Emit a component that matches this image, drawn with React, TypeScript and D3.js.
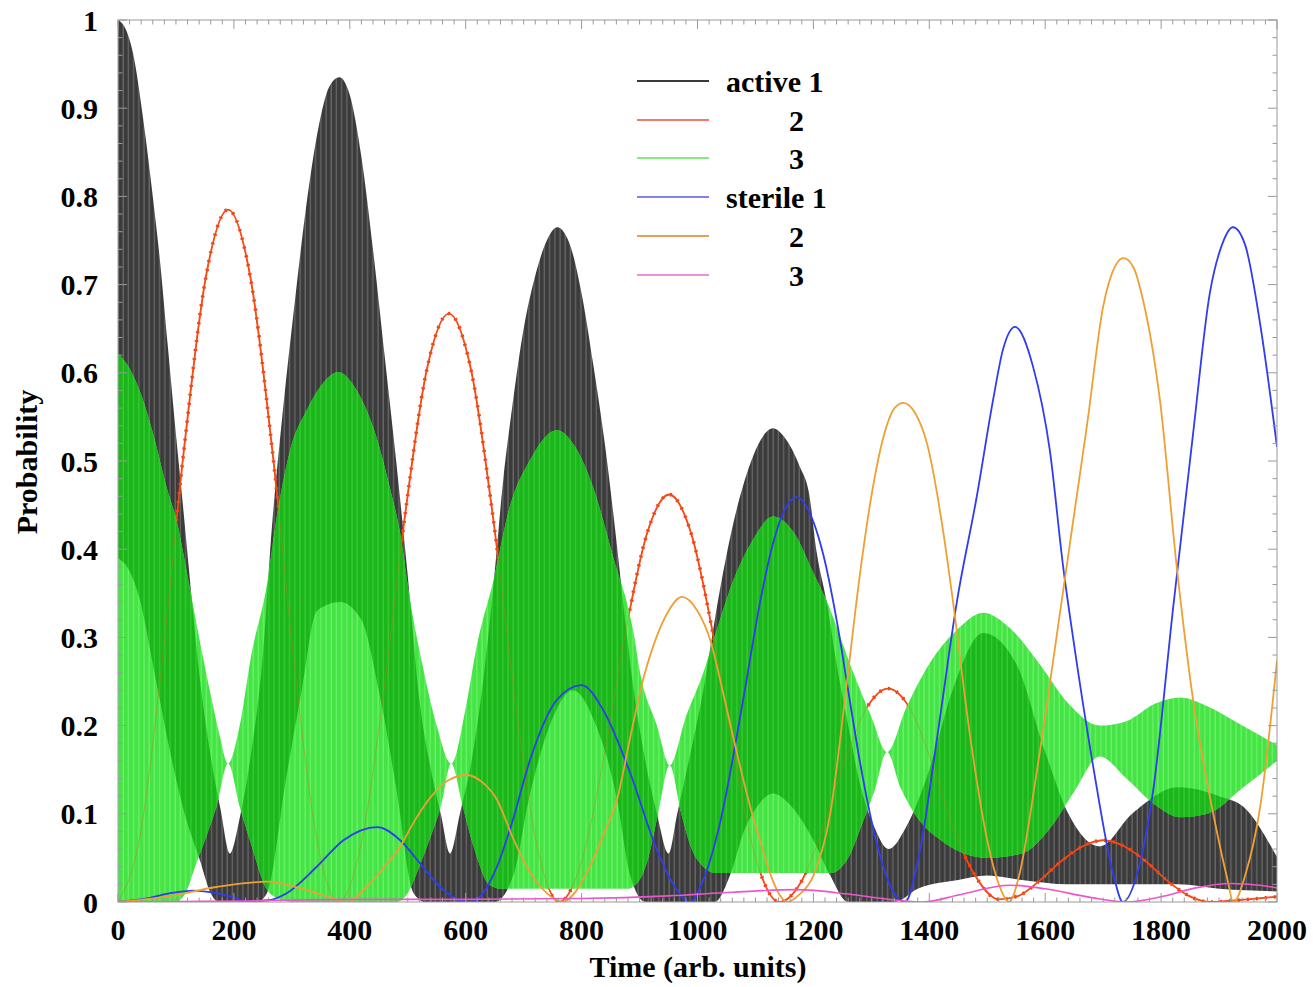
import React from "react";
import * as d3 from "d3";

// Probabilities over time. Fast oscillations of active 1 and active 3 are
// given as their upper / lower envelopes; the other flavours are smooth curves.
type Pt = [number, number];

const activeOneHigh: Pt[] = [
  [0, 1.0], [13, 0.99], [26, 0.962], [44, 0.885], [60, 0.8], [72, 0.73], [86, 0.63], [100, 0.53],
  [112, 0.45], [122, 0.38], [140, 0.26], [160, 0.165], [177, 0.105], [193, 0.055], [210, 0.095],
  [230, 0.17], [250, 0.28], [265, 0.42], [285, 0.56], [305, 0.68], [325, 0.79], [345, 0.875],
  [365, 0.925], [382, 0.935], [400, 0.915], [420, 0.845], [440, 0.74], [460, 0.62], [480, 0.5],
  [500, 0.37], [520, 0.23], [540, 0.15], [557, 0.1], [573, 0.055], [590, 0.1], [610, 0.16],
  [630, 0.25], [648, 0.36], [665, 0.48], [680, 0.56], [700, 0.65], [720, 0.71], [740, 0.75],
  [758, 0.765], [780, 0.745], [800, 0.69], [820, 0.61], [840, 0.52], [860, 0.41], [875, 0.32],
  [890, 0.24], [910, 0.16], [930, 0.1], [950, 0.055], [965, 0.1], [985, 0.16], [1010, 0.24],
  [1035, 0.34], [1062, 0.43], [1091, 0.497], [1110, 0.525], [1130, 0.537], [1150, 0.527],
  [1177, 0.493], [1192, 0.465], [1206, 0.395], [1223, 0.34], [1240, 0.27], [1260, 0.2],
  [1280, 0.135], [1305, 0.085], [1330, 0.06], [1360, 0.085], [1400, 0.15], [1440, 0.24],
  [1493, 0.305], [1550, 0.27], [1600, 0.17], [1640, 0.1], [1694, 0.063], [1750, 0.1],
  [1830, 0.13], [1900, 0.12], [1942, 0.108], [2000, 0.051],
];

const activeOneLow: Pt[] = [
  [0, 0.39], [20, 0.375], [38, 0.342], [60, 0.27], [90, 0.17], [115, 0.1], [141, 0.048], [160, 0.01],
  [175, 0], [240, 0], [257, 0.01], [290, 0.14], [317, 0.24], [343, 0.33], [383, 0.34], [420, 0.32],
  [450, 0.24], [480, 0.13], [510, 0.01], [530, 0], [650, 0], [682, 0.03], [710, 0.12], [745, 0.2],
  [785, 0.24], [825, 0.2], [860, 0.12], [884, 0.03], [910, 0], [1030, 0], [1056, 0.03], [1080, 0.08],
  [1105, 0.11], [1130, 0.123], [1160, 0.11], [1200, 0.07], [1229, 0.03], [1260, 0], [1340, 0],
  [1380, 0.015], [1450, 0.025], [1500, 0.03], [1560, 0.025], [1640, 0.02], [1700, 0.02],
  [1760, 0.02], [1830, 0.02], [1900, 0.015], [2000, 0.012],
];

const activeThreeHigh: Pt[] = [
  [0, 0.622], [20, 0.605], [40, 0.575], [61, 0.53], [84, 0.47], [102, 0.43], [120, 0.37], [140, 0.3],
  [160, 0.235], [175, 0.19], [190, 0.157], [210, 0.2], [230, 0.28], [257, 0.36], [274, 0.437],
  [297, 0.512], [326, 0.558], [350, 0.585], [380, 0.601], [412, 0.58], [440, 0.539], [469, 0.47],
  [487, 0.418], [504, 0.342], [525, 0.27], [550, 0.2], [575, 0.157], [600, 0.22], [619, 0.29],
  [648, 0.365], [676, 0.448], [710, 0.5], [757, 0.535], [790, 0.515], [820, 0.47], [855, 0.39],
  [889, 0.308], [901, 0.26], [930, 0.2], [952, 0.155], [980, 0.21], [1010, 0.26], [1033, 0.308],
  [1062, 0.365], [1095, 0.41], [1130, 0.437], [1165, 0.42], [1200, 0.373], [1230, 0.33],
  [1252, 0.29], [1269, 0.26], [1300, 0.21], [1327, 0.17], [1360, 0.22], [1400, 0.27], [1450, 0.31],
  [1493, 0.328], [1540, 0.31], [1590, 0.27], [1640, 0.225], [1694, 0.2], [1740, 0.205],
  [1790, 0.225], [1833, 0.232], [1880, 0.222], [1940, 0.2], [2000, 0.178],
];

const activeThreeLow: Pt[] = [
  [0, 0], [100, 0], [120, 0.015], [133, 0.04], [150, 0.07], [170, 0.108], [190, 0.157], [210, 0.108],
  [230, 0.065], [257, 0.014], [280, 0.003], [300, 0], [480, 0], [500, 0.01], [520, 0.04], [540, 0.075],
  [557, 0.108], [575, 0.157], [595, 0.108], [615, 0.06], [640, 0.02], [660, 0.015], [880, 0.015],
  [900, 0.025], [915, 0.05], [932, 0.1], [952, 0.155], [972, 0.1], [990, 0.06], [1010, 0.04],
  [1030, 0.033], [1230, 0.033], [1260, 0.05], [1285, 0.09], [1305, 0.125], [1327, 0.17],
  [1350, 0.13], [1380, 0.095], [1420, 0.07], [1460, 0.055], [1500, 0.05], [1560, 0.055],
  [1610, 0.085], [1650, 0.125], [1694, 0.165], [1740, 0.14], [1790, 0.11], [1833, 0.096],
  [1880, 0.1], [1942, 0.13], [2000, 0.16],
];

const activeTwo: Pt[] = [
  [0, 0], [38, 0.075], [76, 0.271], [114, 0.514], [152, 0.71], [190, 0.785], [228, 0.71], [266, 0.514],
  [304, 0.271], [342, 0.075], [381, 0], [419, 0.064], [457, 0.23], [495, 0.437], [533, 0.604],
  [571, 0.667], [609, 0.604], [647, 0.437], [685, 0.23], [723, 0.064], [761, 0], [799, 0.044],
  [837, 0.159], [875, 0.303], [913, 0.418], [951, 0.462], [989, 0.418], [1027, 0.303], [1065, 0.159],
  [1103, 0.044], [1141, 0], [1179, 0.023], [1216, 0.083], [1254, 0.159], [1291, 0.219], [1329, 0.242],
  [1367, 0.219], [1404, 0.159], [1442, 0.083], [1479, 0.03], [1520, 0.003], [1554, 0.007],
  [1590, 0.024], [1627, 0.046], [1664, 0.063], [1700, 0.07], [1737, 0.063], [1774, 0.046],
  [1811, 0.024], [1848, 0.007], [1885, 0], [1950, 0.003], [2000, 0.006],
];

const sterileOne: Pt[] = [
  [0, 0], [50, 0.004], [90, 0.01], [130, 0.013], [170, 0.01], [200, 0.005], [225, 0.001], [260, 0.002],
  [291, 0.01], [343, 0.04], [389, 0.07], [447, 0.085], [487, 0.07], [521, 0.044], [556, 0.017],
  [580, 0.005], [607, 0], [630, 0.01], [654, 0.04], [680, 0.09], [711, 0.161], [757, 0.229],
  [800, 0.246], [837, 0.218], [884, 0.146], [930, 0.059], [960, 0.018], [987, 0], [1010, 0.025],
  [1039, 0.09], [1079, 0.23], [1108, 0.34], [1130, 0.406], [1150, 0.444], [1171, 0.459],
  [1200, 0.431], [1217, 0.394], [1240, 0.32], [1260, 0.24], [1280, 0.16], [1310, 0.065],
  [1335, 0.015], [1358, 0], [1384, 0.059], [1413, 0.184], [1448, 0.342], [1482, 0.46], [1510, 0.569],
  [1527, 0.626], [1548, 0.652], [1579, 0.607], [1608, 0.512], [1631, 0.38], [1648, 0.3],
  [1683, 0.153], [1717, 0.033], [1734, 0], [1760, 0.035], [1786, 0.125], [1821, 0.335],
  [1855, 0.53], [1884, 0.69], [1905, 0.745], [1924, 0.765], [1945, 0.745], [1971, 0.655],
  [2000, 0.516],
];

const sterileTwo: Pt[] = [
  [0, 0], [84, 0.006], [170, 0.017], [257, 0.023], [300, 0.018], [343, 0.01], [370, 0.004], [395, 0],
  [429, 0.017], [460, 0.04], [487, 0.063], [510, 0.09], [535, 0.115], [570, 0.138], [602, 0.144],
  [630, 0.135], [654, 0.116], [680, 0.075], [699, 0.048], [720, 0.025], [740, 0.01], [768, 0],
  [790, 0.012], [814, 0.04], [840, 0.08], [861, 0.116], [885, 0.19], [906, 0.252], [923, 0.289],
  [950, 0.33], [973, 0.346], [1000, 0.33], [1022, 0.297], [1039, 0.252], [1056, 0.203], [1073, 0.155],
  [1091, 0.108], [1110, 0.065], [1125, 0.033], [1140, 0.01], [1155, 0], [1175, 0.008], [1200, 0.03],
  [1229, 0.1], [1258, 0.25], [1280, 0.37], [1300, 0.46], [1320, 0.525], [1340, 0.56], [1355, 0.566],
  [1375, 0.555], [1396, 0.52], [1424, 0.42], [1441, 0.34], [1470, 0.19], [1500, 0.07], [1520, 0.02],
  [1538, 0], [1555, 0.03], [1586, 0.15], [1626, 0.33], [1650, 0.44], [1672, 0.54], [1700, 0.675],
  [1720, 0.72], [1735, 0.73], [1752, 0.72], [1769, 0.682], [1798, 0.569], [1827, 0.38],
  [1855, 0.23], [1890, 0.1], [1913, 0.03], [1925, 0], [1945, 0.03], [1971, 0.108], [2000, 0.274],
];

const sterileThree: Pt[] = [
  [0, 0], [200, 0.001], [400, 0.003], [600, 0.003], [800, 0.004], [950, 0.007], [1060, 0.011],
  [1170, 0.014], [1260, 0.009], [1330, 0.003], [1390, 0], [1450, 0.008], [1540, 0.019], [1600, 0.015],
  [1680, 0.005], [1740, 0], [1800, 0.006], [1860, 0.016], [1920, 0.021], [1970, 0.019], [2000, 0.016],
];

const xTicks = [0, 200, 400, 600, 800, 1000, 1200, 1400, 1600, 1800, 2000];
const yTicks = [0, 0.1, 0.2, 0.3, 0.4, 0.5, 0.6, 0.7, 0.8, 0.9, 1];
const legendLabels = ["active 1", "2", "3", "sterile 1", "2", "3"];

const W = 1313;
const H = 987;
const FONT = "'Liberation Serif', 'Times New Roman', serif";

const COLORS = {
  red: "#ff3a14",
  blue: "#2f3cf0",
  orange: "#eea035",
  pink: "#ee55cc",
};

export default function App() {
  const x = d3.scaleLinear().domain([0, 2000]).range([118, 1277]);
  const y = d3.scaleLinear().domain([0, 1]).range([902, 20]);
  const [x0, x1] = x.range();
  const [yb, yt] = y.range();

  const under = d3
    .area<Pt>()
    .x((d) => x(d[0]))
    .y0(y(0))
    .y1((d) => y(d[1]))
    .curve(d3.curveMonotoneX);
  const line = d3
    .line<Pt>()
    .x((d) => x(d[0]))
    .y((d) => y(d[1]))
    .curve(d3.curveMonotoneX);

  const xMinor = d3.range(0, 2001, 20);
  const yMinor = d3.range(0, 51).map((i) => i * 0.02);

  const legendRows = [
    { label: legendLabels[0], color: "#3a3a3a", dx: 0 },
    { label: legendLabels[1], color: "#f27a66", dx: 63 },
    { label: legendLabels[2], color: "#86ea86", dx: 63 },
    { label: legendLabels[3], color: "#8080f0", dx: 0 },
    { label: legendLabels[4], color: "#e0a356", dx: 63 },
    { label: legendLabels[5], color: "#f090dc", dx: 63 },
  ];
  const legendY = [81, 120, 158, 197, 236, 275];

  return (
    <svg
      width={W}
      height={H}
      style={{ position: "absolute", left: 0, top: 0, background: "#fff" }}
      fontFamily={FONT}
    >
      <defs>
        <clipPath id="plotClip">
          <rect x={x0} y={yt} width={x1 - x0} height={yb - yt} />
        </clipPath>
        <pattern id="blackFill" patternUnits="userSpaceOnUse" width={5.2} height={10}>
          <rect width={5.2} height={10} fill="#3b3b3b" />
          <rect x={3} width={1.3} height={10} fill="#676767" />
        </pattern>
        <pattern id="greenLight" patternUnits="userSpaceOnUse" width={5.2} height={10}>
          <rect width={5.2} height={10} fill="#45e445" />
          <rect x={3} width={1.3} height={10} fill="#6cf06c" />
        </pattern>
        <pattern id="greenDark" patternUnits="userSpaceOnUse" width={5.2} height={10}>
          <rect width={5.2} height={10} fill="#1cb61c" />
          <rect x={3} width={1.3} height={10} fill="#33cc33" />
        </pattern>
        <mask id="blackBand" maskUnits="userSpaceOnUse" x={0} y={0} width={W} height={H}>
          <path d={under(activeOneHigh) ?? ""} fill="white" />
          <path d={under(activeOneLow) ?? ""} fill="black" />
        </mask>
        <mask id="greenBand" maskUnits="userSpaceOnUse" x={0} y={0} width={W} height={H}>
          <path d={under(activeThreeHigh) ?? ""} fill="white" />
          <path d={under(activeThreeLow) ?? ""} fill="black" />
        </mask>
      </defs>

      <g clipPath="url(#plotClip)">
        {/* active 1 */}
        <rect x={x0} y={yt} width={x1 - x0} height={yb - yt} fill="url(#blackFill)" mask="url(#blackBand)" />
        {/* active 2, below active 3 */}
        <path d={line(activeTwo) ?? ""} fill="none" stroke={COLORS.red} strokeWidth={1.8} />
        <path
          d={line(activeTwo) ?? ""}
          fill="none"
          stroke={COLORS.red}
          strokeWidth={3.6}
          strokeDasharray="2 7"
        />
        {/* active 3 */}
        <rect x={x0} y={yt} width={x1 - x0} height={yb - yt} fill="url(#greenLight)" mask="url(#greenBand)" />
        <g mask="url(#blackBand)">
          <rect x={x0} y={yt} width={x1 - x0} height={yb - yt} fill="url(#greenDark)" mask="url(#greenBand)" />
        </g>
        <path d={line(activeTwo) ?? ""} fill="none" stroke="#c87a10" strokeWidth={1} opacity={0.45} />
        {/* sterile flavours */}
        <path d={line(sterileOne) ?? ""} fill="none" stroke={COLORS.blue} strokeWidth={1.8} />
        <path d={line(sterileTwo) ?? ""} fill="none" stroke={COLORS.orange} strokeWidth={1.8} />
        <path d={line(sterileThree) ?? ""} fill="none" stroke={COLORS.pink} strokeWidth={1.6} />
      </g>

      {/* frame and ticks */}
      <rect x={x0} y={yt} width={x1 - x0} height={yb - yt} fill="none" stroke="#9a9a9a" strokeWidth={1} />
      <g stroke="#9a9a9a" strokeWidth={1}>
        {xMinor.map((t) => {
          const len = t % 200 === 0 ? 9 : 4.5;
          const px = x(t);
          return (
            <g key={`xt${t}`}>
              <line x1={px} x2={px} y1={yt} y2={yt + len} />
              <line x1={px} x2={px} y1={yb} y2={yb - len} />
            </g>
          );
        })}
        {yMinor.map((v, i) => {
          const len = i % 5 === 0 ? 9 : 4.5;
          const py = y(v);
          return (
            <g key={`yt${i}`}>
              <line x1={x0} x2={x0 + len} y1={py} y2={py} />
              <line x1={x1} x2={x1 - len} y1={py} y2={py} />
            </g>
          );
        })}
      </g>

      <g fontSize={30} fontWeight="bold" fill="#000">
        {xTicks.map((t) => (
          <text key={`xl${t}`} x={x(t)} y={940} textAnchor="middle">
            {String(t)}
          </text>
        ))}
        {yTicks.map((v) => (
          <text key={`yl${v}`} x={98} y={y(v) + 10.5} textAnchor="end">
            {String(v)}
          </text>
        ))}
        <text x={698} y={977} textAnchor="middle">
          Time (arb. units)
        </text>
        <text transform="translate(37,462) rotate(-90)" textAnchor="middle">
          Probability
        </text>
      </g>

      {/* legend */}
      <g fontSize={30} fontWeight="bold">
        {legendRows.map((r, i) => (
          <g key={`lg${i}`}>
            <line x1={637} x2={709} y1={legendY[i]} y2={legendY[i]} stroke={r.color} strokeWidth={2.2} />
            <text x={726 + r.dx} y={legendY[i] + 11}>
              {r.label}
            </text>
          </g>
        ))}
      </g>
    </svg>
  );
}
